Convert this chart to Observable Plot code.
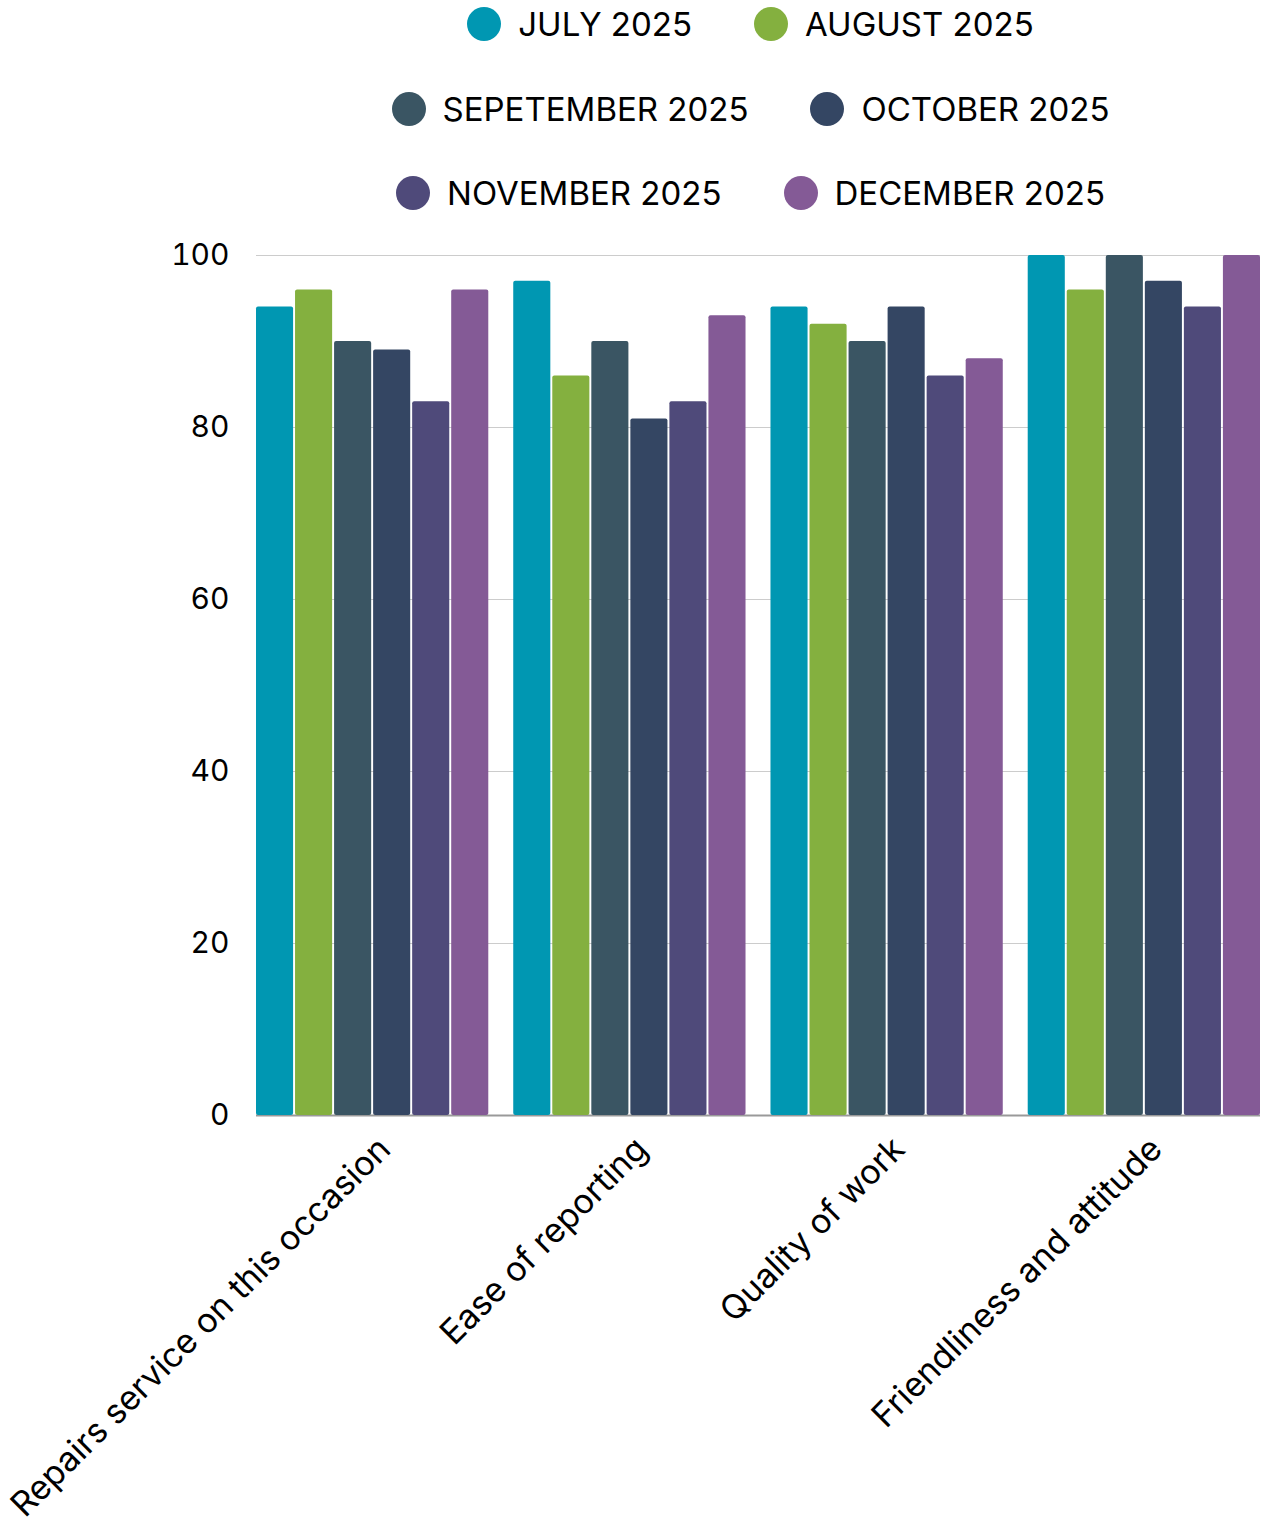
<!DOCTYPE html>
<html>
<head>
<meta charset="utf-8">
<script src="https://cdn.jsdelivr.net/npm/d3@7"></script>
<script src="https://cdn.jsdelivr.net/npm/@observablehq/plot@0.6"></script>
<style>
  html, body { margin: 0; padding: 0; background: #fff; }
  body { width: 1265px; font-family: Inter, "Noto Sans", sans-serif; }
  #legend { height: 220px; box-sizing: border-box; padding-top: 7px; padding-left: 236px; }
  .row { display: flex; justify-content: center; align-items: center; gap: 62px; height: 34px; margin-bottom: 50.5px; }
  .item { display: flex; align-items: center; gap: 17px; font-size: 33px; color: #000; white-space: nowrap; }
  .dot { width: 34px; height: 34px; border-radius: 50%; display: inline-block; }
</style>
</head>
<body>
<div id="legend"></div>
<div id="chart"></div>
<script>
const categories = ["Repairs service on this occasion", "Ease of reporting", "Quality of work", "Friendliness and attitude"];
const seriesNames = ["JULY 2025", "AUGUST 2025", "SEPETEMBER 2025", "OCTOBER 2025", "NOVEMBER 2025", "DECEMBER 2025"];
const seriesColors = ["#0097b2", "#84b03f", "#3a5563", "#344663", "#4f4a7a", "#845a96"];
const july = [94, 97, 94, 100];
const august = [96, 86, 92, 96];
const september = [90, 90, 90, 100];
const october = [89, 81, 94, 97];
const november = [83, 83, 86, 94];
const december = [96, 93, 88, 100];
const yTicks = [0, 20, 40, 60, 80, 100];

const seriesValues = [july, august, september, october, november, december];
const data = [];
categories.forEach((c, i) => {
  seriesNames.forEach((s, j) => data.push({category: c, series: s, value: seriesValues[j][i]}));
});

// Legend (rows of two)
const legend = document.getElementById("legend");
for (let r = 0; r < seriesNames.length; r += 2) {
  const row = document.createElement("div");
  row.className = "row";
  for (let k = r; k < Math.min(r + 2, seriesNames.length); k++) {
    const item = document.createElement("div");
    item.className = "item";
    const dot = document.createElement("span");
    dot.className = "dot";
    dot.style.background = seriesColors[k];
    const label = document.createElement("span");
    label.textContent = seriesNames[k];
    item.appendChild(dot);
    item.appendChild(label);
    row.appendChild(item);
  }
  legend.appendChild(row);
}

const W = 1265, ML = 256, MR = 5;
const plotWidth = W - ML - MR;

const chart = Plot.plot({
  width: W,
  height: 1299,
  marginLeft: ML,
  marginRight: MR,
  marginTop: 35,
  marginBottom: 404,
  style: {fontFamily: "Inter, 'Noto Sans', sans-serif", fontSize: "30px", color: "#000", background: "#fff"},
  fx: {domain: categories, paddingInner: 0.097, paddingOuter: 0, round: false, label: null},
  x: {domain: seriesNames, paddingInner: 0.05, paddingOuter: 0, round: false, axis: null},
  y: {domain: [0, 100], label: null},
  color: {domain: seriesNames, range: seriesColors},
  marks: [
    Plot.axisY({ticks: yTicks.filter(d => d > 0), text: null, tickSize: -plotWidth, stroke: "#cccccc", strokeWidth: 1.2, strokeOpacity: 1, label: null}),
    Plot.axisY({ticks: [0], text: null, tickSize: -plotWidth, stroke: "#999999", strokeWidth: 2, strokeOpacity: 1, label: null}),
    Plot.axisY({ticks: yTicks, tickSize: 0, tickPadding: 27, label: null, fill: "#000"}),
    Plot.axisFx({anchor: "bottom", tickRotate: -45, tickSize: 0, tickPadding: 28, dx: 12, fontSize: 34, label: null, fill: "#000"}),
    Plot.barY(data, {fx: "category", x: "series", y: "value", fill: "series", rx: 2})
  ]
});
document.getElementById("chart").appendChild(chart);
</script>
</body>
</html>
